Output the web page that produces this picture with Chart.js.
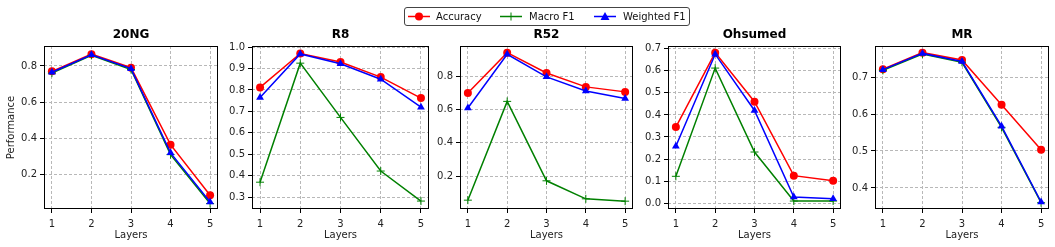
<!DOCTYPE html>
<html lang="en">
<head>
    <meta charset="UTF-8">
    <title>Performance vs Layers</title>
    <script src="https://cdn.jsdelivr.net/npm/chart.js"></script>
    <style>
        body {
            margin: 0;
            padding: 0;
            background: #fff;
            font-family: "DejaVu Sans", sans-serif;
        }

        #figure {
            position: relative;
            width: 1055px;
            height: 247px;
            overflow: hidden;
        }

        .panel {
            position: absolute;
            top: 0;
            height: 247px;
        }

        .legend {
            position: absolute;
            left: 404px;
            top: 7px;
            width: 284px;
            height: 17px;
            border: 1px solid #444;
            border-radius: 3px;
            background: #fff;
            font-size: 10px;
            color: #111;
        }

        .legend .item {
            position: absolute;
            top: 0;
            height: 17px;
            line-height: 17px;
            white-space: nowrap;
        }

        .legend svg {
            position: absolute;
            top: 3px;
        }
    </style>
</head>
<body>
<div id="figure">
    <div class="legend">
        <div class="item" style="left:3px">
            <svg width="22" height="11"><line x1="0" y1="5.5" x2="22" y2="5.5" stroke="#ff0000" stroke-width="1.5"/><circle cx="11" cy="5.5" r="4" fill="#ff0000"/></svg>
            <span style="position:absolute;left:28px">Accuracy</span>
        </div>
        <div class="item" style="left:95px">
            <svg width="22" height="11"><line x1="0" y1="5.5" x2="22" y2="5.5" stroke="#008000" stroke-width="1.5"/><line x1="11" y1="1.5" x2="11" y2="9.5" stroke="#008000" stroke-width="1"/></svg>
            <span style="position:absolute;left:29px">Macro F1</span>
        </div>
        <div class="item" style="left:189px">
            <svg width="22" height="11"><line x1="0" y1="5.5" x2="22" y2="5.5" stroke="#0000ff" stroke-width="1.5"/><polygon points="11,1 15.5,9 6.5,9" fill="#0000ff"/></svg>
            <span style="position:absolute;left:29px">Weighted F1</span>
        </div>
    </div>
</div>

<script>
    // x values shared by all panels
    const layers = [1, 2, 3, 4, 5];
    const datasetNames = ['20NG', 'R8', 'R52', 'Ohsumed', 'MR'];

    // one row per dataset, one value per layer count
    const accuracy = [
        [0.770, 0.865, 0.790, 0.365, 0.086],
        [0.812, 0.970, 0.930, 0.860, 0.762],
        [0.698, 0.940, 0.818, 0.735, 0.705],
        [0.345, 0.682, 0.460, 0.125, 0.102],
        [0.721, 0.766, 0.746, 0.625, 0.503]
    ];
    const macroF1 = [
        [0.760, 0.858, 0.780, 0.310, 0.040],
        [0.370, 0.925, 0.672, 0.422, 0.282],
        [0.056, 0.648, 0.172, 0.064, 0.050],
        [0.122, 0.612, 0.232, 0.010, 0.010],
        [0.718, 0.762, 0.740, 0.564, 0.360]
    ];
    const weightedF1 = [
        [0.765, 0.862, 0.785, 0.320, 0.049],
        [0.765, 0.968, 0.922, 0.850, 0.720],
        [0.608, 0.930, 0.795, 0.710, 0.665],
        [0.258, 0.675, 0.420, 0.028, 0.020],
        [0.720, 0.764, 0.742, 0.567, 0.362]
    ];

    // y tick labels and axis limits per panel
    const yTicks = [
        [0.2, 0.4, 0.6, 0.8],
        [0.3, 0.4, 0.5, 0.6, 0.7, 0.8, 0.9, 1.0],
        [0.2, 0.4, 0.6, 0.8],
        [0.0, 0.1, 0.2, 0.3, 0.4, 0.5, 0.6, 0.7],
        [0.4, 0.5, 0.6, 0.7]
    ];
    const yMin = [0.010, 0.245, 0.003, -0.026, 0.343];
    const yMax = [0.910, 1.005, 0.980, 0.712, 0.784];

    // plot area edges in the figure
    const plotLeft = [44, 252, 460, 668, 875];
    const plotRight = [218, 429, 633, 841, 1049];
    const plotTop = 46;
    const plotBottom = 209;
    const figHeight = 247;
    const padRight = 6;

    const FONT = '"DejaVu Sans", sans-serif';

    // black frame round the plot area, like matplotlib spines
    const framePlugin = {
        id: 'frame',
        afterDraw(chart) {
            const a = chart.chartArea;
            const ctx = chart.ctx;
            ctx.save();
            ctx.strokeStyle = '#000';
            ctx.lineWidth = 1;
            ctx.strokeRect(Math.round(a.left) + 0.5, Math.round(a.top) + 0.5,
                Math.round(a.right - a.left) - 1, Math.round(a.bottom - a.top) - 1);
            ctx.restore();
        }
    };

    const fig = document.getElementById('figure');

    datasetNames.forEach((name, i) => {
        const yw = i === 0 ? 44 : 40;
        const w = yw + (plotRight[i] - plotLeft[i]) + padRight;

        const div = document.createElement('div');
        div.className = 'panel';
        div.style.left = (plotLeft[i] - yw) + 'px';
        div.style.width = w + 'px';
        const canvas = document.createElement('canvas');
        div.appendChild(canvas);
        fig.insertBefore(div, fig.firstChild);

        const pts = arr => arr.map((v, k) => ({ x: layers[k], y: v }));

        new Chart(canvas, {
            type: 'line',
            data: {
                datasets: [
                    {
                        label: 'Accuracy',
                        data: pts(accuracy[i]),
                        borderColor: '#ff0000',
                        backgroundColor: '#ff0000',
                        borderWidth: 1.5,
                        pointStyle: 'circle',
                        pointRadius: 4,
                        pointBorderWidth: 0,
                        order: 2
                    },
                    {
                        label: 'Macro F1',
                        data: pts(macroF1[i]),
                        borderColor: '#008000',
                        backgroundColor: '#008000',
                        borderWidth: 1.5,
                        pointStyle: 'cross',
                        pointRadius: 4,
                        pointBorderWidth: 1,
                        order: 1
                    },
                    {
                        label: 'Weighted F1',
                        data: pts(weightedF1[i]),
                        borderColor: '#0000ff',
                        backgroundColor: '#0000ff',
                        borderWidth: 1.5,
                        pointStyle: 'triangle',
                        pointRadius: 4.5,
                        pointBorderWidth: 0,
                        order: 0
                    }
                ]
            },
            options: {
                responsive: true,
                maintainAspectRatio: false,
                animation: false,
                events: [],
                layout: { padding: { left: 0, right: padRight, top: 0, bottom: 0 } },
                elements: { line: { tension: 0 } },
                plugins: {
                    legend: { display: false },
                    tooltip: { enabled: false },
                    title: {
                        display: true,
                        text: name,
                        fullSize: false,
                        color: '#000',
                        font: { family: FONT, size: 12, weight: 'bold', lineHeight: 1.2 },
                        padding: { top: 28, bottom: plotTop - 28 - 14.4 }
                    }
                },
                scales: {
                    x: {
                        type: 'linear',
                        min: 0.8,
                        max: 5.2,
                        afterBuildTicks: s => { s.ticks = layers.map(v => ({ value: v })); },
                        afterFit: s => {
                            s.height = figHeight - plotBottom;
                            s.paddingLeft = 0;
                            s.paddingRight = 0;
                        },
                        ticks: {
                            color: '#222',
                            padding: 5,
                            maxRotation: 0,
                            font: { family: FONT, size: 10 },
                            callback: v => String(v)
                        },
                        grid: {
                            color: '#b8b8b8',
                            lineWidth: 1,
                            tickLength: 4,
                            tickColor: '#000',
                            tickWidth: 1,
                            tickBorderDash: []
                        },
                        border: { display: false, color: '#000', dash: [3, 2] },
                        title: {
                            display: true,
                            text: 'Layers',
                            color: '#222',
                            font: { family: FONT, size: 10 },
                            padding: { top: 0, bottom: 5.5 }
                        }
                    },
                    y: {
                        type: 'linear',
                        min: yMin[i],
                        max: yMax[i],
                        afterBuildTicks: s => { s.ticks = yTicks[i].map(v => ({ value: v })); },
                        afterFit: s => {
                            s.width = yw;
                            s.paddingTop = 0;
                            s.paddingBottom = 0;
                        },
                        ticks: {
                            color: '#222',
                            padding: 3,
                            font: { family: FONT, size: 10 },
                            callback: v => Number(v).toFixed(1)
                        },
                        grid: {
                            color: '#b8b8b8',
                            lineWidth: 1,
                            tickLength: 4,
                            tickColor: '#000',
                            tickWidth: 1,
                            tickBorderDash: []
                        },
                        border: { display: false, color: '#000', dash: [3, 2] },
                        title: {
                            display: i === 0,
                            text: 'Performance',
                            color: '#222',
                            font: { family: FONT, size: 10 },
                            padding: { top: 5, bottom: 0 }
                        }
                    }
                }
            },
            plugins: [framePlugin]
        });
    });
</script>
</body>
</html>
